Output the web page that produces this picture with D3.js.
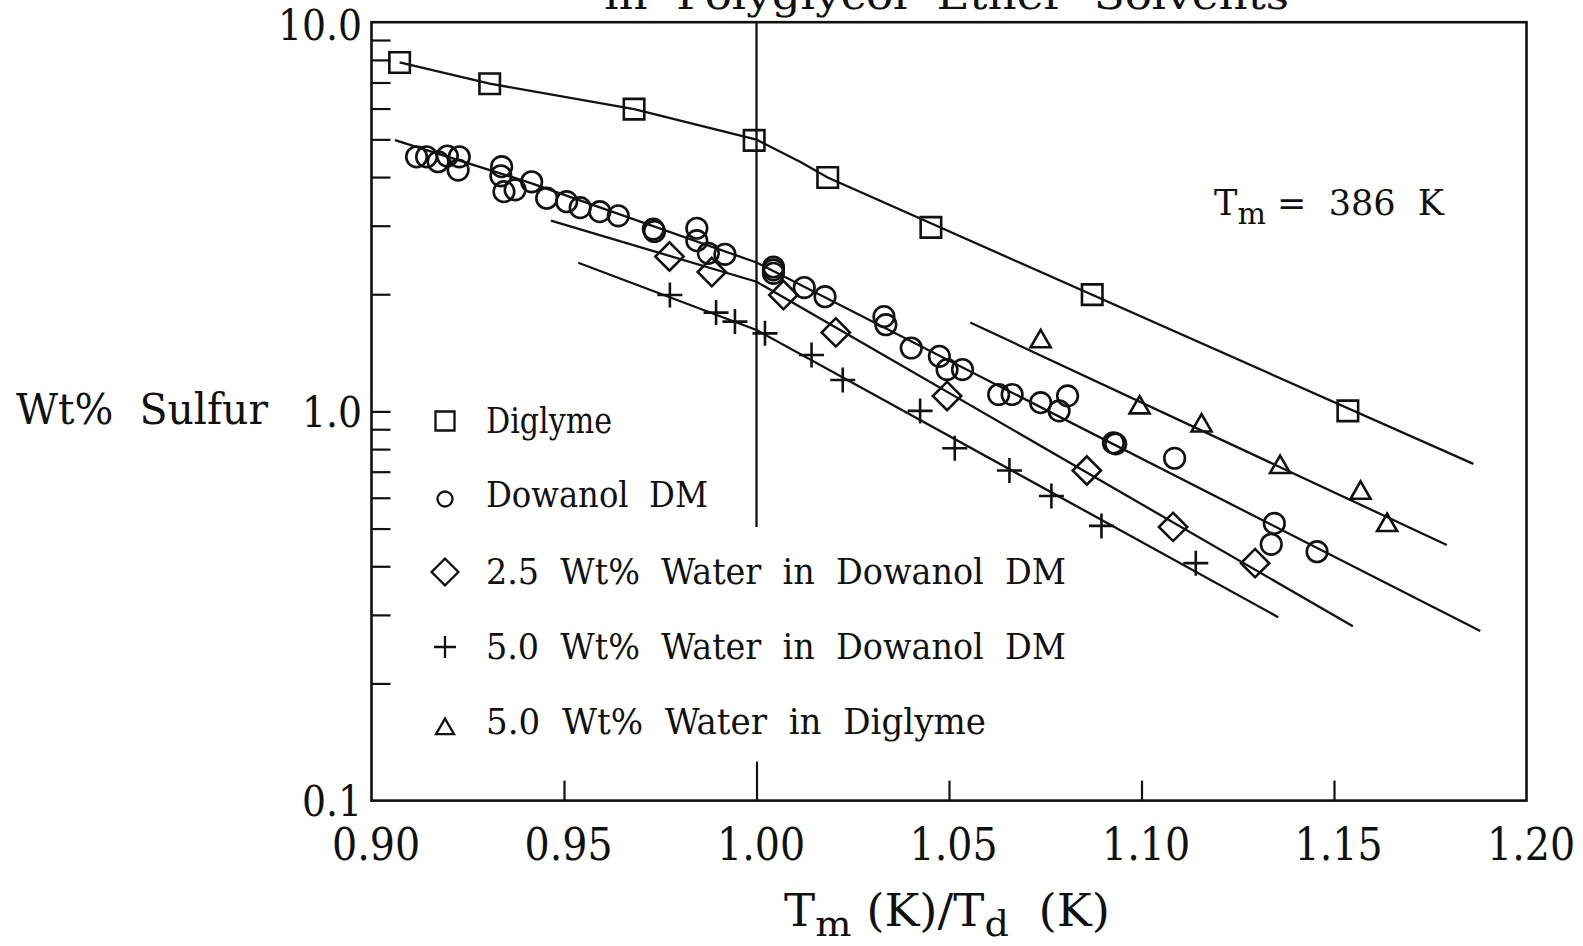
<!DOCTYPE html>
<html><head><meta charset="utf-8">
<script src="https://cdn.jsdelivr.net/npm/d3@7"></script>
<style>
html,body{margin:0;padding:0;background:#fff;}
svg{display:block;}
text{font-family:"DejaVu Serif Condensed","DejaVu Serif",serif;font-stretch:condensed;fill:#111;white-space:pre;}
</style></head>
<body>
<script>
// ---------- data ----------
const xTickValues = [0.90, 0.95, 1.00, 1.05, 1.10, 1.15, 1.20];
const xTickLabels = ["0.90", "0.95", "1.00", "1.05", "1.10", "1.15", "1.20"];
const yTickValues = [0.1, 1, 10];
const yTickLabels = ["0.1", "1.0", "10.0"];
const yMinorTicks = [0.2,0.3,0.4,0.5,0.6,0.7,0.8,0.9,1,2,3,4,5,6,7,8,9];
const xSmallTicks = [0.95, 1.05, 1.10, 1.15];
const xLongTicks = [1.00];

const diglymeX = [0.9073, 0.9307, 0.9682, 0.9994, 1.0185, 1.0453, 1.0872, 1.1536];
const diglymeY = [7.88, 6.95, 5.98, 4.97, 3.99, 2.97, 1.995, 1.003];

const dowanolX = [0.9117,0.9143,0.9173,0.9197,0.9228,0.9225,0.9338,0.9336,0.9344,0.9373,0.9416,0.9455,0.9507,0.9542,0.9593,0.9641,0.9732,0.9735,0.9845,0.9845,0.9875,0.9918,1.0044,1.0044,1.0044,1.0124,1.0178,1.0331,1.0336,1.0402,1.0475,1.0495,1.0535,1.0629,1.0664,1.0738,1.0786,1.0808,1.0927,1.0933,1.1086,1.1345,1.1337,1.1456];
const dowanolY = [4.51,4.51,4.38,4.53,4.51,4.17,4.255,4.03,3.67,3.71,3.89,3.53,3.458,3.338,3.26,3.18,2.94,2.90,2.955,2.746,2.548,2.533,2.35,2.31,2.264,2.081,1.971,1.752,1.670,1.455,1.385,1.281,1.281,1.105,1.105,1.053,1.003,1.096,0.830,0.825,0.758,0.5155,0.4555,0.436];

const water25X = [0.9774, 0.9884, 1.0070, 1.0206, 1.0495, 1.0858, 1.1082, 1.1295];
const water25Y = [2.50, 2.28, 1.99, 1.596, 1.096, 0.705, 0.505, 0.4075];

const water50X = [0.9775, 0.9895, 0.9944, 1.0022, 1.0143, 1.0224, 1.0425, 1.0515, 1.0657, 1.0766, 1.0896, 1.1141];
const water50Y = [1.991, 1.794, 1.701, 1.587, 1.396, 1.204, 1.003, 0.804, 0.705, 0.606, 0.508, 0.4075];

const waterDigX = [1.0738, 1.0995, 1.1156, 1.1360, 1.1569, 1.1638];
const waterDigY = [1.513, 1.023, 0.919, 0.719, 0.617, 0.510];

// fitted curves
const diglymeFitX = [0.9073, 0.9307, 0.9682, 1.0, 1.0113, 1.0185, 1.1862];
const diglymeFitY = [7.88, 6.95, 5.98, 4.99, 4.38, 3.99, 0.733];
const dowanolFitX = [0.9061, 0.9416, 1.0, 1.188];
const dowanolFitY = [4.98, 3.855, 2.413, 0.2726];
const water25FitX = [0.9466, 1.0, 1.1549];
const water25FitY = [3.09, 2.154, 0.2805];
const water50FitX = [0.9537, 1.0, 1.1355];
const water50FitY = [2.41, 1.619, 0.296];
const waterDigFitX = [1.0555, 1.1793];
const waterDigFitY = [1.692, 0.4537];
const refLineX = [1.0, 1.0];
const refLineY = [10, 0.505];

const legendLabels = ["Diglyme", "Dowanol  DM", "2.5  Wt%  Water  in  Dowanol  DM", "5.0  Wt%  Water  in  Dowanol  DM", "5.0  Wt%  Water  in  Diglyme"];
const legendWidths = [126, 222, 580, 580, 500];
const titleText = "in  Polyglycol  Ether  Solvents";
const yAxisTitle = "Wt%  Sulfur";
const noteLabel = ["T", "m", " =  386  K"];
const xAxisTitle = ["T", "m", " (K)/T", "d", "  (K)"];

// ---------- layout ----------
const W = 1583, H = 946;
const L = 371.5, R = 1526.5, T = 22.2, B = 800.6;
const ink = "#111";

const svg = d3.select("body").append("svg").attr("width", W).attr("height", H);
const x = d3.scaleLinear().domain([0.9, 1.2]).range([L, R]);
const y = d3.scaleLog().domain([0.1, 10]).range([B, T]);

// title (cut off at top edge, as in the scanned original)
svg.append("text").attr("x", 604).attr("y", 9).attr("font-size", 40)
  .attr("textLength", 685).attr("lengthAdjust", "spacingAndGlyphs").text(titleText);

// frame
svg.append("rect").attr("x", L).attr("y", T).attr("width", R - L).attr("height", B - T)
  .attr("fill", "none").attr("stroke", ink).attr("stroke-width", 2.6);

// y minor ticks (inward from left)
const gyMinor = svg.append("g").attr("transform", `translate(${L},0)`)
  .call(d3.axisRight(y).tickValues(yMinorTicks).tickSize(19).tickFormat(""));
gyMinor.select(".domain").remove();
gyMinor.selectAll("line").attr("stroke", ink).attr("stroke-width", 2.2);

// y labels
const gyLab = svg.append("g").attr("transform", `translate(${L},0)`)
  .call(d3.axisLeft(y).tickValues(yTickValues).tickSize(0).tickPadding(9.5)
    .tickFormat((d, i) => yTickLabels[i]));
gyLab.select(".domain").remove();
gyLab.selectAll("text").attr("font-size", 42).attr("font-family", null).attr("fill", ink)
  .attr("dy", (d) => d === 10 ? "0.42em" : "0.35em");

// x ticks (inward from bottom)
const gxS = svg.append("g").attr("transform", `translate(0,${B})`)
  .call(d3.axisTop(x).tickValues(xSmallTicks).tickSize(20).tickFormat(""));
const gxL = svg.append("g").attr("transform", `translate(0,${B})`)
  .call(d3.axisTop(x).tickValues(xLongTicks).tickSize(39).tickFormat(""));
[gxS, gxL].forEach(g => { g.select(".domain").remove(); g.selectAll("line").attr("stroke", ink).attr("stroke-width", 2.2); });

// x labels
const gxLab = svg.append("g").attr("transform", `translate(0,${B})`)
  .call(d3.axisBottom(x).tickValues(xTickValues).tickSize(0).tickFormat((d, i) => xTickLabels[i]));
gxLab.select(".domain").remove();
gxLab.selectAll("text").attr("font-size", 44).attr("font-family", null).attr("fill", ink)
  .attr("dy", null).attr("y", 59.5).attr("x", 4);

// axis titles
svg.append("text").attr("x", 16).attr("y", 424).attr("font-size", 43)
  .attr("textLength", 252).attr("lengthAdjust", "spacingAndGlyphs").text(yAxisTitle);

const xt = svg.append("text").attr("x", 784).attr("y", 926).attr("font-size", 44)
  .attr("textLength", 326).attr("lengthAdjust", "spacingAndGlyphs");
xt.append("tspan").text(xAxisTitle[0]);
xt.append("tspan").attr("font-size", 36).attr("dy", 10).text(xAxisTitle[1]);
xt.append("tspan").attr("dy", -10).text(xAxisTitle[2]);
xt.append("tspan").attr("font-size", 36).attr("dy", 10).text(xAxisTitle[3]);
xt.append("tspan").attr("dy", -10).text(xAxisTitle[4]);

const nt = svg.append("text").attr("x", 1214).attr("y", 215).attr("font-size", 35)
  .attr("textLength", 230).attr("lengthAdjust", "spacingAndGlyphs");
nt.append("tspan").text(noteLabel[0]);
nt.append("tspan").attr("font-size", 30).attr("dy", 9).text(noteLabel[1]);
nt.append("tspan").attr("dy", -9).text(noteLabel[2]);

// lines
const line = d3.line().x(d => x(d[0])).y(d => y(d[1]));
const fits = [[diglymeFitX, diglymeFitY], [dowanolFitX, dowanolFitY], [water25FitX, water25FitY],
              [water50FitX, water50FitY], [waterDigFitX, waterDigFitY], [refLineX, refLineY]];
fits.forEach(([xs, ys]) => {
  svg.append("path").attr("d", line(xs.map((v, i) => [v, ys[i]])))
    .attr("fill", "none").attr("stroke", ink).attr("stroke-width", 2.3);
});

// markers
const symSquare = s => d3.symbol(d3.symbolSquare, s * s)();
const symCircle = r => d3.symbol(d3.symbolCircle, Math.PI * r * r)();
const symTriangle = s => d3.symbol(d3.symbolTriangle, Math.sqrt(3) / 4 * s * s)();
const symPlus = a => `M${-a},0H${a}M0,${-a}V${a}`;

function drawMarkers(xs, ys, pathStr, rot) {
  svg.append("g").selectAll("path").data(xs.map((v, i) => [v, ys[i]])).join("path")
    .attr("d", pathStr)
    .attr("transform", d => `translate(${x(d[0])},${y(d[1])})` + (rot ? ` rotate(${rot})` : ""))
    .attr("fill", "none").attr("stroke", ink).attr("stroke-width", 2.6);
}
drawMarkers(diglymeX, diglymeY, symSquare(20.5));
drawMarkers(dowanolX, dowanolY, symCircle(10.3));
drawMarkers(water25X, water25Y, symSquare(20), 45);
drawMarkers(water50X, water50Y, symPlus(12.5));
drawMarkers(waterDigX, waterDigY, symTriangle(20));

// legend
const legY = [433, 507, 584, 659, 734];
const legSymY = [421, 499, 572, 647, 729];
const legSyms = [[symSquare(19), 0], [symCircle(7.5), 0], [symSquare(19), 45], [symPlus(11), 0], [symTriangle(18), 0]];
legendLabels.forEach((lab, i) => {
  svg.append("path").attr("d", legSyms[i][0])
    .attr("transform", `translate(445,${legSymY[i]})` + (legSyms[i][1] ? ` rotate(${legSyms[i][1]})` : ""))
    .attr("fill", "none").attr("stroke", ink).attr("stroke-width", 2.3);
  svg.append("text").attr("x", 486).attr("y", legY[i]).attr("font-size", 35)
    .attr("textLength", legendWidths[i]).attr("lengthAdjust", "spacingAndGlyphs").text(lab);
});
</script>
</body></html>
